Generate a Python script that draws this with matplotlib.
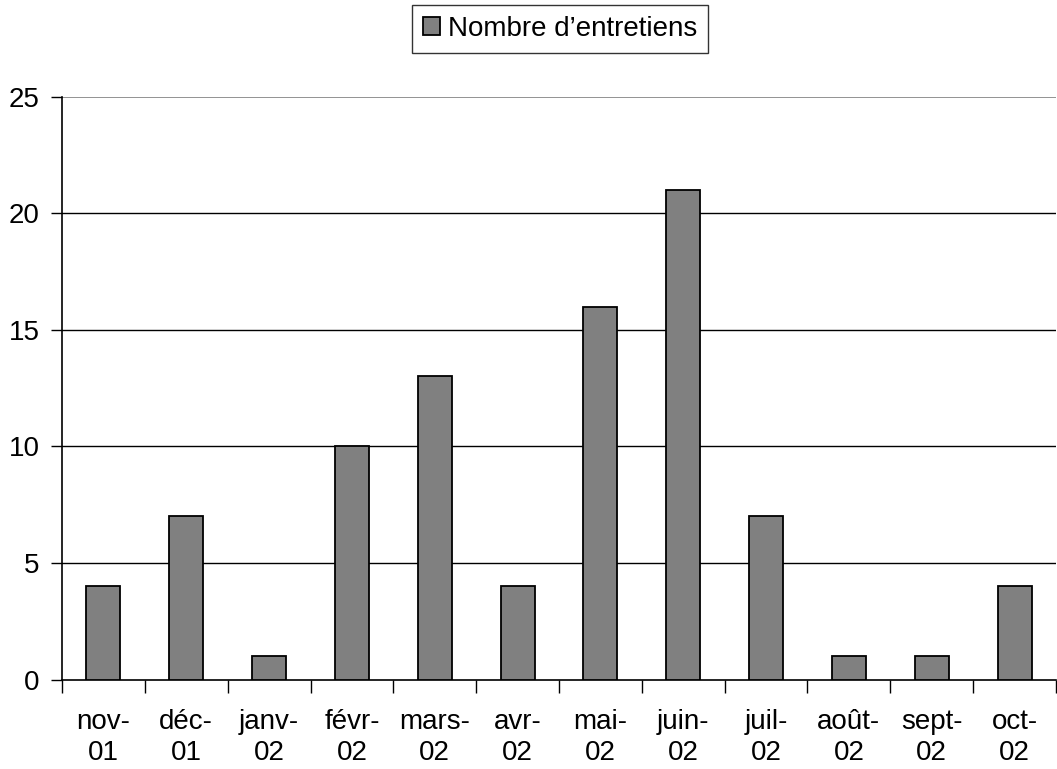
import numpy as np
import matplotlib.pyplot as plt

plt.rcParams['font.family'] = ['Liberation Sans', 'DejaVu Sans']

# ===== data
months = ['nov-\n01', 'déc-\n01', 'janv-\n02', 'févr-\n02', 'mars-\n02', 'avr-\n02',
          'mai-\n02', 'juin-\n02', 'juil-\n02', 'août-\n02', 'sept-\n02', 'oct-\n02']
entretiens = [4, 7, 1, 10, 13, 4, 16, 21, 7, 1, 1, 4]
series_name = 'Nombre d’entretiens'

fig = plt.figure(figsize=(10.57, 7.69), dpi=100)
ax = fig.add_axes([62 / 1057, 1 - 679.5 / 769, 994 / 1057, (679.5 - 96.7) / 769])

x = np.arange(len(months))
bars = ax.bar(x, entretiens, width=0.41, color='#808080', edgecolor='black',
              linewidth=1.3, label=series_name, zorder=3)

ax.set_xlim(-0.5, len(months) - 0.5)
ax.set_ylim(0, 25)

# gridlines
for v in [5, 10, 15, 20]:
    ax.axhline(v, color='black', lw=1, zorder=1)
ax.axhline(25, color='#808080', lw=1.2, zorder=1)

for s in ['top', 'right']:
    ax.spines[s].set_visible(False)
ax.spines['left'].set_linewidth(1.2)
ax.spines['bottom'].set_linewidth(1.2)

ax.set_yticks([0, 5, 10, 15, 20, 25])
ax.tick_params(axis='y', length=8, width=1, labelsize=20, pad=8)

# x ticks at category boundaries, labels centered
ax.set_xticks(np.arange(len(months) + 1) - 0.5)
ax.set_xticklabels([])
ax.set_xticks(x, minor=True)
ax.set_xticklabels(months, minor=True, fontsize=20, linespacing=1.25)
ax.tick_params(axis='x', which='major', length=9, width=1)
ax.tick_params(axis='x', which='minor', length=0, pad=21)

leg = fig.legend(handles=[bars], labels=[series_name], loc='center',
                 bbox_to_anchor=(560 / 1057, 1 - 29 / 769), fontsize=20,
                 frameon=True, fancybox=False, shadow=False,
                 handlelength=0.6, handleheight=0.6, handletextpad=0.3,
                 borderpad=0.4, borderaxespad=0)
leg.get_frame().set_edgecolor('black')
leg.get_frame().set_linewidth(1)

fig.savefig('out.png', dpi=100)
